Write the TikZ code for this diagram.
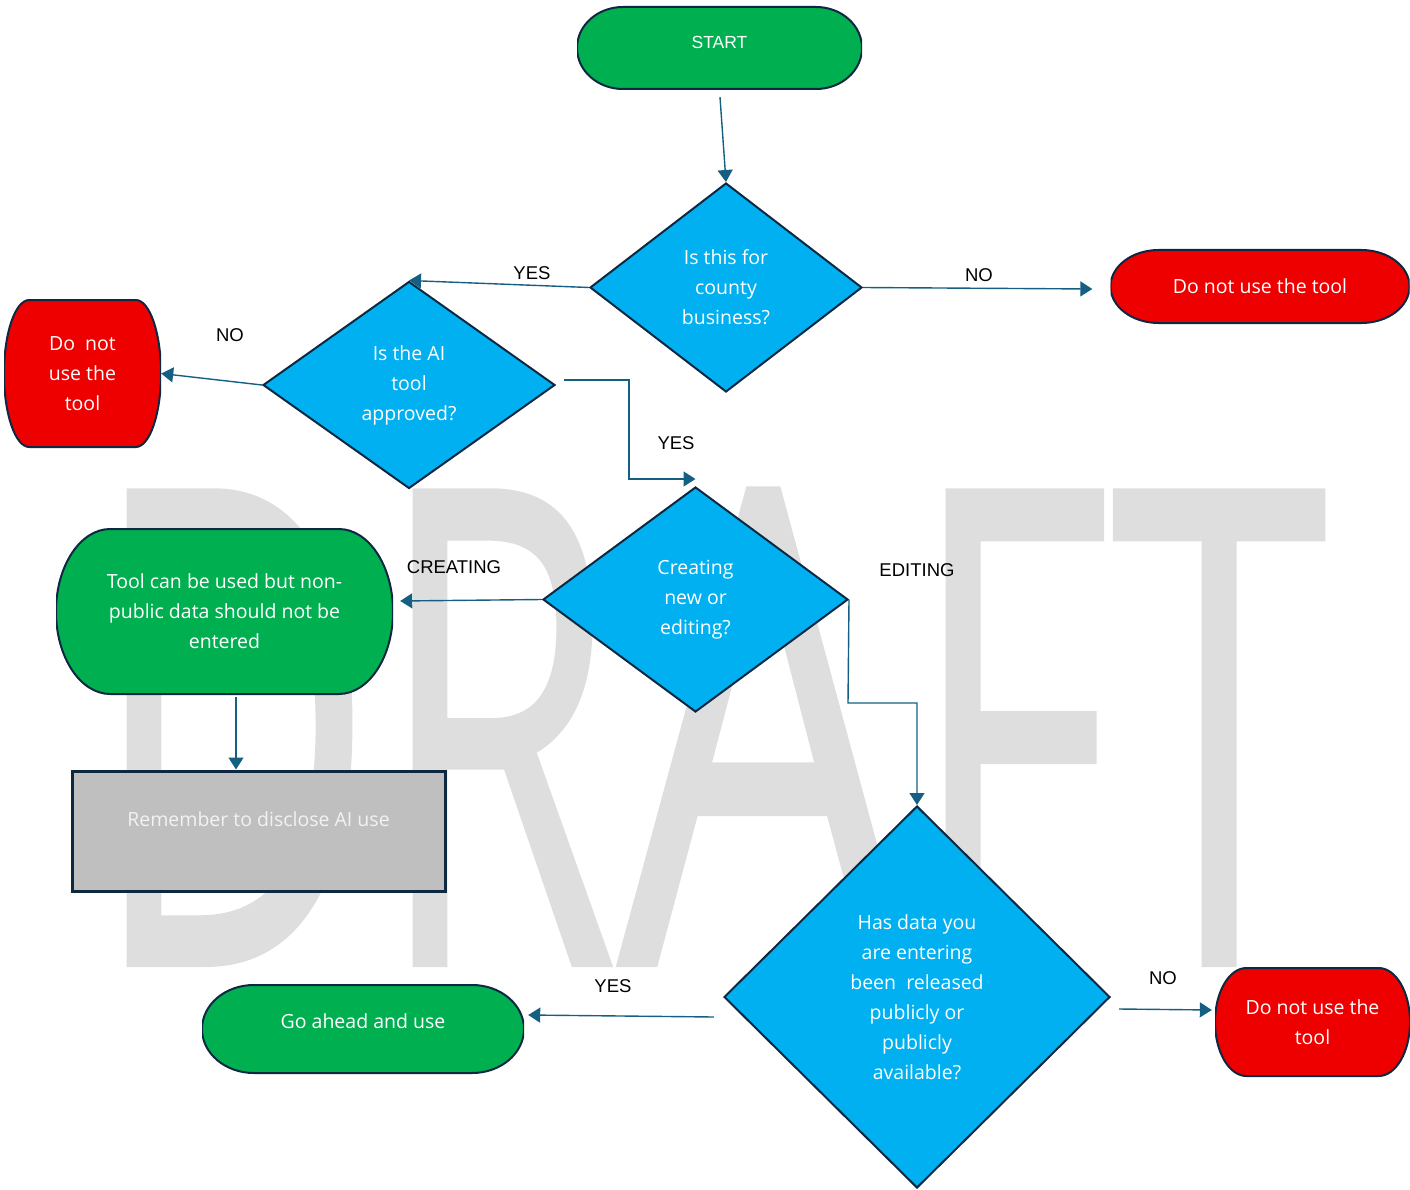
\documentclass[tikz,border=0pt]{standalone}
\usepackage{fontspec}
\setmainfont{Open Sans}
\newfontfamily\labelfont{Liberation Sans}
\newfontfamily\markfont[FakeBold=0.6]{Open Sans}
\usetikzlibrary{arrows.meta}
\usetikzlibrary{calc}
\usetikzlibrary{positioning}
\usetikzlibrary{shapes.geometric}

\definecolor{termgreen}{HTML}{00B050}
\definecolor{termred}{HTML}{EE0000}
\definecolor{decblue}{HTML}{00B0F0}
\definecolor{edgenavy}{HTML}{0E2841}
\definecolor{flowblue}{HTML}{156082}
\definecolor{notegrey}{HTML}{BFBFBF}
\definecolor{markgrey}{HTML}{DEDEDE}

\tikzset{
  term/.style={rectangle, inner sep=0pt, align=center, text=white,
    font=\fontsize{19.5}{30}\selectfont,
    path picture={
      \draw[line width=2pt, draw=edgenavy, fill=#1]
        let \p1=(path picture bounding box.north west),
            \p2=(path picture bounding box.south east),
            \n1={0.161*(\x2-\x1)}, \n2={(\y1-\y2)/2-1} in
        ($(path picture bounding box.north west)+(\n1,-1)$)
          -- ($(path picture bounding box.north east)+(-\n1,-1)$)
          arc[start angle=90, end angle=-90, x radius=\n1, y radius=\n2]
          -- ($(path picture bounding box.south west)+(\n1,1)$)
          arc[start angle=270, end angle=90, x radius=\n1, y radius=\n2]
          -- cycle;}},
  decision/.style={diamond, draw=edgenavy, line width=2pt, fill=decblue,
    inner sep=0pt, align=center, text=white, font=\fontsize{19.5}{30}\selectfont},
  note/.style={rectangle, draw=edgenavy, line width=3pt, fill=notegrey,
    text=white!95!black, font=\fontsize{19.5}{30}\selectfont},
  flow/.style={draw=flowblue, line width=1.4pt, -{Triangle[length=12pt,width=15pt]}},
  lbl/.style={inner sep=0pt, font=\labelfont\fontsize{18.5}{22}\selectfont},
  draftmark/.style={anchor=base, inner sep=0pt, text=markgrey, xscale=0.59,
    font=\markfont\fontsize{665}{665}\selectfont}
}

\begin{document}
\begin{tikzpicture}[x=1pt, y=1pt]
  \useasboundingbox (0,0) rectangle (1410,-1190);
  % watermark
  \node[draftmark] (draft) at (708.5,-965) {DR\scalebox{1.17}[1]{A}FT};

  \node[term=termgreen, minimum width=285pt, minimum height=84pt,
    font=\labelfont\fontsize{17.5}{21}\selectfont, text depth=12pt] (start) at (719.5,-48) {START};
  \node[decision, minimum width=272pt, minimum height=209pt] (isbiz) at (726,-287.5) {Is this for\\county\\business?};
  \node[term=termred, minimum width=299pt, minimum height=75pt] (nouse1) at (1260,-286.5) {Do not use the tool};
  \node[decision, minimum width=292pt, minimum height=207pt] (approved) at (409,-385) {Is the AI\\tool\\approved?};
  \node[term=termred, minimum width=157pt, minimum height=149pt] (nouse2) at (82.5,-373.5) {Do\ \ not\\use the\\tool};
  \node[decision, minimum width=305pt, minimum height=225pt] (mode) at (695.5,-599.5) {Creating\\new or\\editing?};
  \node[term=termgreen, minimum width=337pt, minimum height=167pt] (usenp) at (224.5,-611.5) {Tool can be used but non-\\public data should not be\\entered};
  \node[note, minimum width=373pt, minimum height=120pt, text depth=24pt] (remind) at (258.5,-831) {Remember to disclose AI use};
  \node[decision, minimum width=386pt, minimum height=382pt] (public) at (917,-997) {Has data you\\are entering\\been\ \ released\\publicly or\\publicly\\available?};
  \node[term=termgreen, minimum width=322pt, minimum height=90pt, text depth=16pt] (goahead) at (363,-1029) {Go ahead and use};
  \node[term=termred, minimum width=195pt, minimum height=110pt] (nouse3) at (1312.5,-1022) {Do not use the\\tool};

  % branch labels
  \node[lbl] (yes1) at (532,-273) {YES};
  \node[lbl] (no1) at (979,-275) {NO};
  \node[lbl] (no2) at (230,-335) {NO};
  \node[lbl] (yes2) at (676,-443) {YES};
  \node[lbl] (creating) at (454,-567) {CREATING};
  \node[lbl] (editing) at (917,-570) {EDITING};
  \node[lbl] (yes3) at (613,-986) {YES};
  \node[lbl] (no3) at (1163,-978) {NO};

  % connectors
  \draw[flow] ($(start.south)+(0.5,-7)$) -- (isbiz.north);
  \draw[flow] (isbiz.east) -- ($(nouse1.west)+(-18,-2.5)$);
  \draw[flow] (isbiz.west) -- (approved.north);
  \draw[flow] (approved.west) -- (nouse2.east);
  \draw[flow] ($(approved.east)+(8,5)$) -- (629,-380) |- ($(mode.north)+(0,7)$);
  \draw[flow] (mode.west) -- ($(usenp.east)+(7,10.5)$);
  \draw[flow] (mode.east) -- (848,-703) -| (public.north);
  \draw[flow] ($(usenp.south)+(11.5,-2)$) -- ($(remind.north)+(-22.5,0)$);
  \draw[flow] ($(public.west)+(-9,-20)$) -- ($(goahead.east)+(4,14)$);
  \draw[flow] ($(public.east)+(8,-12)$) -- ($(nouse3.west)+(-3,12)$);
\end{tikzpicture}
\end{document}
